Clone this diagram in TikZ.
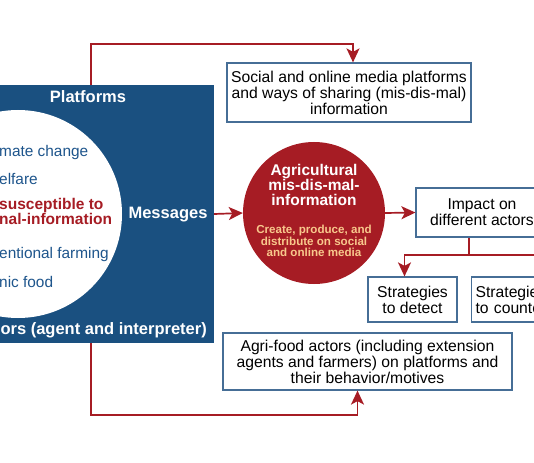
\documentclass[tikz,border=0pt]{standalone}
\usepackage{fontspec}
\setmainfont{Liberation Sans}
\usetikzlibrary{arrows.meta, positioning}
\definecolor{panelblue}{RGB}{26,80,128}
\definecolor{redc}{RGB}{166,28,36}
\definecolor{boxline}{RGB}{70,110,150}
\definecolor{topicblue}{RGB}{30,85,140}
\definecolor{cream}{RGB}{248,200,140}
\newcommand{\fsz}[2]{\fontsize{#1pt}{#2pt}\selectfont}

\begin{document}
\begin{tikzpicture}[
    x=1pt, y=-1pt,
    box/.style={rectangle, draw=boxline, line width=1.2pt, fill=white, align=center, font=\fsz{15.7}{16}, inner sep=2pt},
    topic/.style={anchor=base west, text=topicblue, font=\fsz{15.4}{16}, inner sep=0pt},
    paneltext/.style={text=white, font=\bfseries\fsz{16.5}{18}, inner sep=0pt},
    flow/.style={draw=redc, line width=1.7pt, -{Stealth[length=14pt, width=13pt, inset=3.5pt]}},
    link/.style={draw=redc, line width=1.7pt}
]
\useasboundingbox (0,0) rectangle (534,462);
\clip (0,0) rectangle (534,462);

% left panel with the topics circle
\node[rectangle, fill=panelblue, minimum width=240pt, minimum height=258pt, inner sep=0pt] (platforms) at (94,214) {};
\node[circle, fill=white, minimum size=208pt, inner sep=0pt] (topics) at (18,214) {};
\node[paneltext, anchor=base] (plattitle) at (88,103) {Platforms};
\node[paneltext, anchor=base] (messages) at (168,218) {Messages};
\node[paneltext, anchor=base east] (actors) at (207,334) {ors (agent and interpreter)};
\node[topic] (climate) at (-1,157) {mate change};
\node[topic] (welfare) at (-1,185) {elfare};
\node[topic, text=redc, font=\bfseries\fsz{15.5}{16}] (suscept) at (-1,209) {susceptible to};
\node[topic, text=redc, font=\bfseries\fsz{15.5}{16}] (malinfo) at (-1,224) {nal-information};
\node[topic] (conv) at (-1,258) {entional farming};
\node[topic] (organic) at (-1,287) {nic food};

% central red circle
\node[circle, fill=redc, minimum size=142pt, inner sep=0pt] (agri) at (314,213) {};
\node[text=white, font=\bfseries\fsz{15.5}{15}, align=center, inner sep=0pt] (agrititle) at (314,185) {Agricultural\\mis-dis-mal-\\information};
\node[text=cream, font=\bfseries\fsz{11.6}{10.6}, align=center, inner sep=0pt] (agrisub) at (314,241) {Create, produce, and\\distribute on social\\and online media};

% boxes
\node[box, minimum width=244pt, minimum height=59pt] (social) at (349,92.5) {Social and online media platforms\\and ways of sharing (mis-dis-mal)\\information};
\node[box, minimum width=289pt, minimum height=57pt] (agrifood) at (367.5,361.5) {Agri-food actors (including extension\\agents and farmers) on platforms and\\their behavior/motives};
\node[box, minimum width=132pt, minimum height=49pt] (impact) at (482,212.5) {Impact on\\different actors};
\node[box, minimum width=89pt, minimum height=45pt] (detect) at (412.5,299.5) {Strategies\\to detect};
\node[box, anchor=west, align=left, text width=102pt, inner xsep=4pt, minimum height=45pt] (counter) at (471,299.5) {Strategie\\to counte};

% connectors
\coordinate (tap) at (91,0);
\draw[flow] (platforms.north -| tap) -- ++(0,-41) -| ([xshift=4pt]social.north);
\draw[flow] (platforms.south -| tap) -- ++(0,72) -| ([xshift=-10pt]agrifood.south);
\draw[flow] (platforms.east) -- (agri.west);
\draw[flow] (agri.east) -- (impact.west);
\coordinate (split) at (469,255);
\draw[link] (impact.south -| split) -- (split);
\draw[flow] (split) -| ([xshift=-8pt]detect.north);
\draw[flow] (split) -| ([xshift=20pt]counter.north);
\end{tikzpicture}
\end{document}
